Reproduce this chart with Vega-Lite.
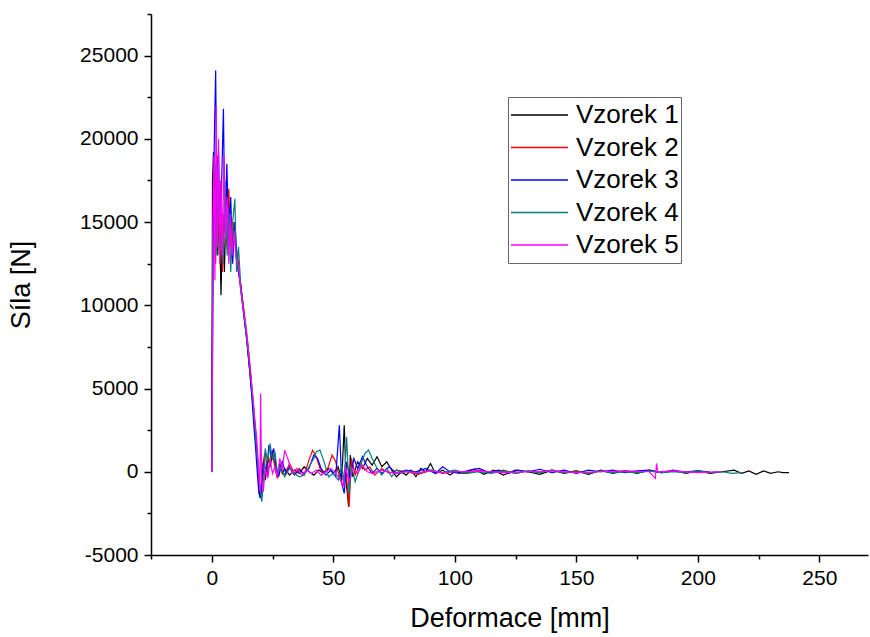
{
"$schema": "https://vega.github.io/schema/vega-lite/v6.json",
"autosize": {"type": "none"},
"padding": {"left": 151, "top": 14, "right": 2, "bottom": 82},
"width": 717,
"height": 541,
"background": "white",
"config": {"view": {"stroke": null}, "font": "Liberation Sans"},
"data": {"values": [
{"v":"Vzorek 1","x":0,"y":0},{"v":"Vzorek 1","x":0.3,"y":17500},{"v":"Vzorek 1","x":0.7,"y":19200},{"v":"Vzorek 1","x":1.2,"y":15000},{"v":"Vzorek 1","x":1.8,"y":18500},{"v":"Vzorek 1","x":2.5,"y":13000},{"v":"Vzorek 1","x":3,"y":16500},{"v":"Vzorek 1","x":3.8,"y":10600},{"v":"Vzorek 1","x":4.5,"y":15500},{"v":"Vzorek 1","x":5.2,"y":12000},{"v":"Vzorek 1","x":6,"y":17000},{"v":"Vzorek 1","x":6.8,"y":13500},{"v":"Vzorek 1","x":7.5,"y":15800},{"v":"Vzorek 1","x":8.3,"y":12800},{"v":"Vzorek 1","x":9,"y":14800},{"v":"Vzorek 1","x":10,"y":13300},{"v":"Vzorek 1","x":11,"y":12000},{"v":"Vzorek 1","x":12,"y":11200},{"v":"Vzorek 1","x":13,"y":9800},{"v":"Vzorek 1","x":14,"y":8500},{"v":"Vzorek 1","x":15,"y":7000},{"v":"Vzorek 1","x":16,"y":5500},{"v":"Vzorek 1","x":17,"y":4000},{"v":"Vzorek 1","x":17.8,"y":2500},{"v":"Vzorek 1","x":18.5,"y":1200},{"v":"Vzorek 1","x":19.2,"y":-200},{"v":"Vzorek 1","x":19.8,"y":-1500},{"v":"Vzorek 1","x":20.5,"y":-800},{"v":"Vzorek 1","x":21.2,"y":200},{"v":"Vzorek 1","x":22,"y":-500},{"v":"Vzorek 1","x":23,"y":900},{"v":"Vzorek 1","x":24,"y":300},{"v":"Vzorek 1","x":25,"y":1100},{"v":"Vzorek 1","x":26,"y":400},{"v":"Vzorek 1","x":27,"y":-300},{"v":"Vzorek 1","x":28,"y":500},{"v":"Vzorek 1","x":29,"y":-100},{"v":"Vzorek 1","x":30,"y":200},{"v":"Vzorek 1","x":32,"y":-200},{"v":"Vzorek 1","x":34,"y":100},{"v":"Vzorek 1","x":36,"y":-100},{"v":"Vzorek 1","x":38,"y":300},{"v":"Vzorek 1","x":40,"y":0},{"v":"Vzorek 1","x":42,"y":-200},{"v":"Vzorek 1","x":44,"y":100},{"v":"Vzorek 1","x":46,"y":-100},{"v":"Vzorek 1","x":48,"y":200},{"v":"Vzorek 1","x":50,"y":-100},{"v":"Vzorek 1","x":52,"y":300},{"v":"Vzorek 1","x":53.5,"y":-500},{"v":"Vzorek 1","x":54.5,"y":2800},{"v":"Vzorek 1","x":55.3,"y":-600},{"v":"Vzorek 1","x":56.3,"y":-2100},{"v":"Vzorek 1","x":57,"y":1000},{"v":"Vzorek 1","x":58,"y":-300},{"v":"Vzorek 1","x":60,"y":600},{"v":"Vzorek 1","x":62,"y":200},{"v":"Vzorek 1","x":64,"y":800},{"v":"Vzorek 1","x":66,"y":400},{"v":"Vzorek 1","x":68,"y":900},{"v":"Vzorek 1","x":70,"y":300},{"v":"Vzorek 1","x":72,"y":600},{"v":"Vzorek 1","x":74,"y":100},{"v":"Vzorek 1","x":76,"y":-300},{"v":"Vzorek 1","x":78,"y":0},{"v":"Vzorek 1","x":80,"y":-200},{"v":"Vzorek 1","x":82,"y":100},{"v":"Vzorek 1","x":84,"y":-300},{"v":"Vzorek 1","x":86,"y":200},{"v":"Vzorek 1","x":88,"y":0},{"v":"Vzorek 1","x":90,"y":500},{"v":"Vzorek 1","x":92,"y":-100},{"v":"Vzorek 1","x":95,"y":100},{"v":"Vzorek 1","x":98,"y":-200},{"v":"Vzorek 1","x":100,"y":0},{"v":"Vzorek 1","x":104,"y":-100},{"v":"Vzorek 1","x":108,"y":150},{"v":"Vzorek 1","x":112,"y":-150},{"v":"Vzorek 1","x":116,"y":100},{"v":"Vzorek 1","x":120,"y":-200},{"v":"Vzorek 1","x":125,"y":100},{"v":"Vzorek 1","x":130,"y":0},{"v":"Vzorek 1","x":135,"y":-150},{"v":"Vzorek 1","x":140,"y":100},{"v":"Vzorek 1","x":145,"y":-100},{"v":"Vzorek 1","x":150,"y":50},{"v":"Vzorek 1","x":155,"y":-150},{"v":"Vzorek 1","x":160,"y":100},{"v":"Vzorek 1","x":165,"y":-100},{"v":"Vzorek 1","x":170,"y":50},{"v":"Vzorek 1","x":175,"y":-100},{"v":"Vzorek 1","x":180,"y":100},{"v":"Vzorek 1","x":185,"y":-50},{"v":"Vzorek 1","x":190,"y":100},{"v":"Vzorek 1","x":195,"y":-100},{"v":"Vzorek 1","x":200,"y":50},{"v":"Vzorek 1","x":205,"y":-100},{"v":"Vzorek 1","x":210,"y":0},{"v":"Vzorek 1","x":215,"y":100},{"v":"Vzorek 1","x":218,"y":-100},{"v":"Vzorek 1","x":221,"y":50},{"v":"Vzorek 1","x":224,"y":-150},{"v":"Vzorek 1","x":227,"y":50},{"v":"Vzorek 1","x":230,"y":-100},{"v":"Vzorek 1","x":233,"y":0},{"v":"Vzorek 1","x":235,"y":-50},{"v":"Vzorek 1","x":237.5,"y":-50},
{"v":"Vzorek 2","x":0,"y":0},{"v":"Vzorek 2","x":0.4,"y":14000},{"v":"Vzorek 2","x":1,"y":18000},{"v":"Vzorek 2","x":1.6,"y":12500},{"v":"Vzorek 2","x":2.3,"y":19000},{"v":"Vzorek 2","x":3,"y":14000},{"v":"Vzorek 2","x":3.7,"y":17500},{"v":"Vzorek 2","x":4.4,"y":12000},{"v":"Vzorek 2","x":5.2,"y":16000},{"v":"Vzorek 2","x":6,"y":13500},{"v":"Vzorek 2","x":7,"y":17000},{"v":"Vzorek 2","x":8,"y":13000},{"v":"Vzorek 2","x":9,"y":15000},{"v":"Vzorek 2","x":10,"y":13500},{"v":"Vzorek 2","x":11,"y":12500},{"v":"Vzorek 2","x":12,"y":11000},{"v":"Vzorek 2","x":13,"y":10000},{"v":"Vzorek 2","x":14,"y":8800},{"v":"Vzorek 2","x":15,"y":7500},{"v":"Vzorek 2","x":16,"y":6000},{"v":"Vzorek 2","x":17,"y":4200},{"v":"Vzorek 2","x":18,"y":2500},{"v":"Vzorek 2","x":18.8,"y":900},{"v":"Vzorek 2","x":19.6,"y":-700},{"v":"Vzorek 2","x":20.3,"y":-1400},{"v":"Vzorek 2","x":21,"y":500},{"v":"Vzorek 2","x":22,"y":1200},{"v":"Vzorek 2","x":23,"y":-300},{"v":"Vzorek 2","x":24,"y":800},{"v":"Vzorek 2","x":25,"y":1300},{"v":"Vzorek 2","x":26,"y":200},{"v":"Vzorek 2","x":27,"y":-400},{"v":"Vzorek 2","x":28,"y":300},{"v":"Vzorek 2","x":30,"y":-200},{"v":"Vzorek 2","x":32,"y":500},{"v":"Vzorek 2","x":34,"y":-100},{"v":"Vzorek 2","x":36,"y":200},{"v":"Vzorek 2","x":38,"y":-200},{"v":"Vzorek 2","x":40,"y":700},{"v":"Vzorek 2","x":41.5,"y":1300},{"v":"Vzorek 2","x":43,"y":900},{"v":"Vzorek 2","x":44.5,"y":200},{"v":"Vzorek 2","x":46,"y":-100},{"v":"Vzorek 2","x":48,"y":300},{"v":"Vzorek 2","x":49.5,"y":1000},{"v":"Vzorek 2","x":51,"y":600},{"v":"Vzorek 2","x":52.5,"y":-300},{"v":"Vzorek 2","x":54,"y":-900},{"v":"Vzorek 2","x":55,"y":500},{"v":"Vzorek 2","x":56.5,"y":-2100},{"v":"Vzorek 2","x":57.5,"y":800},{"v":"Vzorek 2","x":59,"y":-200},{"v":"Vzorek 2","x":61,"y":500},{"v":"Vzorek 2","x":63,"y":100},{"v":"Vzorek 2","x":65,"y":300},{"v":"Vzorek 2","x":67,"y":-200},{"v":"Vzorek 2","x":70,"y":200},{"v":"Vzorek 2","x":73,"y":-100},{"v":"Vzorek 2","x":76,"y":100},{"v":"Vzorek 2","x":80,"y":0},{"v":"Vzorek 2","x":85,"y":-150},{"v":"Vzorek 2","x":90,"y":100},{"v":"Vzorek 2","x":95,"y":-100},{"v":"Vzorek 2","x":100,"y":50},{"v":"Vzorek 2","x":105,"y":-100},{"v":"Vzorek 2","x":110,"y":100},{"v":"Vzorek 2","x":115,"y":-50},{"v":"Vzorek 2","x":120,"y":100},{"v":"Vzorek 2","x":125,"y":-100},{"v":"Vzorek 2","x":130,"y":50},{"v":"Vzorek 2","x":135,"y":-50},{"v":"Vzorek 2","x":140,"y":100},{"v":"Vzorek 2","x":145,"y":-50},{"v":"Vzorek 2","x":150,"y":50},{"v":"Vzorek 2","x":155,"y":-100},{"v":"Vzorek 2","x":160,"y":50},{"v":"Vzorek 2","x":165,"y":-50},{"v":"Vzorek 2","x":170,"y":50},{"v":"Vzorek 2","x":175,"y":-50},{"v":"Vzorek 2","x":180,"y":50},{"v":"Vzorek 2","x":185,"y":-50},{"v":"Vzorek 2","x":190,"y":50},{"v":"Vzorek 2","x":195,"y":-50},{"v":"Vzorek 2","x":200,"y":50},{"v":"Vzorek 2","x":205,"y":0},
{"v":"Vzorek 3","x":0,"y":0},{"v":"Vzorek 3","x":0.4,"y":12000},{"v":"Vzorek 3","x":1,"y":19500},{"v":"Vzorek 3","x":1.6,"y":24100},{"v":"Vzorek 3","x":2.2,"y":15000},{"v":"Vzorek 3","x":2.8,"y":19200},{"v":"Vzorek 3","x":3.4,"y":13500},{"v":"Vzorek 3","x":4,"y":17000},{"v":"Vzorek 3","x":4.8,"y":21800},{"v":"Vzorek 3","x":5.4,"y":14500},{"v":"Vzorek 3","x":6.2,"y":18500},{"v":"Vzorek 3","x":7,"y":14000},{"v":"Vzorek 3","x":7.8,"y":16500},{"v":"Vzorek 3","x":8.6,"y":12500},{"v":"Vzorek 3","x":9.5,"y":15000},{"v":"Vzorek 3","x":10.5,"y":12500},{"v":"Vzorek 3","x":11.5,"y":11500},{"v":"Vzorek 3","x":12.5,"y":10200},{"v":"Vzorek 3","x":13.5,"y":9000},{"v":"Vzorek 3","x":14.5,"y":7800},{"v":"Vzorek 3","x":15.5,"y":6200},{"v":"Vzorek 3","x":16.5,"y":4500},{"v":"Vzorek 3","x":17.3,"y":2800},{"v":"Vzorek 3","x":18,"y":1500},{"v":"Vzorek 3","x":18.7,"y":0},{"v":"Vzorek 3","x":19.4,"y":-1300},{"v":"Vzorek 3","x":20,"y":-1600},{"v":"Vzorek 3","x":20.7,"y":-300},{"v":"Vzorek 3","x":21.5,"y":700},{"v":"Vzorek 3","x":22.5,"y":-200},{"v":"Vzorek 3","x":23.5,"y":1600},{"v":"Vzorek 3","x":24.5,"y":900},{"v":"Vzorek 3","x":25.5,"y":1400},{"v":"Vzorek 3","x":26.5,"y":300},{"v":"Vzorek 3","x":27.5,"y":-300},{"v":"Vzorek 3","x":29,"y":600},{"v":"Vzorek 3","x":30.5,"y":-100},{"v":"Vzorek 3","x":32,"y":300},{"v":"Vzorek 3","x":34,"y":-200},{"v":"Vzorek 3","x":36,"y":100},{"v":"Vzorek 3","x":38,"y":-100},{"v":"Vzorek 3","x":40,"y":200},{"v":"Vzorek 3","x":42,"y":1000},{"v":"Vzorek 3","x":43.5,"y":800},{"v":"Vzorek 3","x":45,"y":200},{"v":"Vzorek 3","x":47,"y":-200},{"v":"Vzorek 3","x":49,"y":100},{"v":"Vzorek 3","x":51,"y":-300},{"v":"Vzorek 3","x":52.5,"y":2800},{"v":"Vzorek 3","x":53.5,"y":-700},{"v":"Vzorek 3","x":54.5,"y":-1300},{"v":"Vzorek 3","x":55.5,"y":600},{"v":"Vzorek 3","x":57,"y":-400},{"v":"Vzorek 3","x":58.5,"y":800},{"v":"Vzorek 3","x":60,"y":200},{"v":"Vzorek 3","x":62,"y":900},{"v":"Vzorek 3","x":64,"y":300},{"v":"Vzorek 3","x":66,"y":-100},{"v":"Vzorek 3","x":68,"y":200},{"v":"Vzorek 3","x":70,"y":-100},{"v":"Vzorek 3","x":73,"y":300},{"v":"Vzorek 3","x":76,"y":-100},{"v":"Vzorek 3","x":80,"y":100},{"v":"Vzorek 3","x":84,"y":0},{"v":"Vzorek 3","x":88,"y":200},{"v":"Vzorek 3","x":92,"y":-100},{"v":"Vzorek 3","x":95,"y":300},{"v":"Vzorek 3","x":98,"y":0},{"v":"Vzorek 3","x":102,"y":-100},{"v":"Vzorek 3","x":106,"y":100},{"v":"Vzorek 3","x":110,"y":200},{"v":"Vzorek 3","x":114,"y":-50},{"v":"Vzorek 3","x":118,"y":100},{"v":"Vzorek 3","x":122,"y":-100},{"v":"Vzorek 3","x":126,"y":100},{"v":"Vzorek 3","x":130,"y":0},{"v":"Vzorek 3","x":135,"y":150},{"v":"Vzorek 3","x":140,"y":-50},{"v":"Vzorek 3","x":145,"y":100},{"v":"Vzorek 3","x":150,"y":-100},{"v":"Vzorek 3","x":155,"y":100},{"v":"Vzorek 3","x":160,"y":0},{"v":"Vzorek 3","x":165,"y":100},{"v":"Vzorek 3","x":170,"y":-50},{"v":"Vzorek 3","x":175,"y":50},{"v":"Vzorek 3","x":180,"y":100},{"v":"Vzorek 3","x":185,"y":-50},{"v":"Vzorek 3","x":190,"y":50},{"v":"Vzorek 3","x":195,"y":0},{"v":"Vzorek 3","x":200,"y":50},{"v":"Vzorek 3","x":205,"y":-50},{"v":"Vzorek 3","x":208,"y":0},
{"v":"Vzorek 4","x":0,"y":0},{"v":"Vzorek 4","x":0.5,"y":10000},{"v":"Vzorek 4","x":1.2,"y":17000},{"v":"Vzorek 4","x":1.8,"y":13000},{"v":"Vzorek 4","x":2.5,"y":18500},{"v":"Vzorek 4","x":3.2,"y":14500},{"v":"Vzorek 4","x":4,"y":16500},{"v":"Vzorek 4","x":4.8,"y":12500},{"v":"Vzorek 4","x":5.5,"y":17500},{"v":"Vzorek 4","x":6.3,"y":13000},{"v":"Vzorek 4","x":7,"y":15500},{"v":"Vzorek 4","x":7.8,"y":12000},{"v":"Vzorek 4","x":8.6,"y":15000},{"v":"Vzorek 4","x":9.5,"y":16400},{"v":"Vzorek 4","x":10.2,"y":12000},{"v":"Vzorek 4","x":11,"y":13500},{"v":"Vzorek 4","x":12,"y":11000},{"v":"Vzorek 4","x":13,"y":9800},{"v":"Vzorek 4","x":14,"y":8500},{"v":"Vzorek 4","x":15,"y":7200},{"v":"Vzorek 4","x":16,"y":5800},{"v":"Vzorek 4","x":17,"y":4200},{"v":"Vzorek 4","x":17.8,"y":2600},{"v":"Vzorek 4","x":18.5,"y":1300},{"v":"Vzorek 4","x":19.2,"y":0},{"v":"Vzorek 4","x":19.9,"y":-1000},{"v":"Vzorek 4","x":20.6,"y":-1800},{"v":"Vzorek 4","x":21.3,"y":-500},{"v":"Vzorek 4","x":22,"y":1400},{"v":"Vzorek 4","x":23,"y":600},{"v":"Vzorek 4","x":24,"y":1700},{"v":"Vzorek 4","x":25,"y":700},{"v":"Vzorek 4","x":26,"y":1200},{"v":"Vzorek 4","x":27,"y":-100},{"v":"Vzorek 4","x":28,"y":300},{"v":"Vzorek 4","x":30,"y":-300},{"v":"Vzorek 4","x":32,"y":200},{"v":"Vzorek 4","x":34,"y":-100},{"v":"Vzorek 4","x":36,"y":-300},{"v":"Vzorek 4","x":38,"y":-200},{"v":"Vzorek 4","x":40,"y":300},{"v":"Vzorek 4","x":42,"y":800},{"v":"Vzorek 4","x":43,"y":1200},{"v":"Vzorek 4","x":44.5,"y":1300},{"v":"Vzorek 4","x":46,"y":700},{"v":"Vzorek 4","x":48,"y":-300},{"v":"Vzorek 4","x":50,"y":-100},{"v":"Vzorek 4","x":52,"y":-500},{"v":"Vzorek 4","x":53.5,"y":400},{"v":"Vzorek 4","x":54.5,"y":-700},{"v":"Vzorek 4","x":55.5,"y":2100},{"v":"Vzorek 4","x":56.5,"y":-1300},{"v":"Vzorek 4","x":57.5,"y":300},{"v":"Vzorek 4","x":59,"y":-600},{"v":"Vzorek 4","x":61,"y":300},{"v":"Vzorek 4","x":63,"y":1100},{"v":"Vzorek 4","x":64.5,"y":1300},{"v":"Vzorek 4","x":66,"y":800},{"v":"Vzorek 4","x":68,"y":200},{"v":"Vzorek 4","x":70,"y":-200},{"v":"Vzorek 4","x":72,"y":200},{"v":"Vzorek 4","x":74,"y":-300},{"v":"Vzorek 4","x":76,"y":100},{"v":"Vzorek 4","x":78,"y":-100},{"v":"Vzorek 4","x":80,"y":50},{"v":"Vzorek 4","x":85,"y":-100},{"v":"Vzorek 4","x":90,"y":100},{"v":"Vzorek 4","x":95,"y":-50},{"v":"Vzorek 4","x":100,"y":100},{"v":"Vzorek 4","x":105,"y":-100},{"v":"Vzorek 4","x":110,"y":0},{"v":"Vzorek 4","x":115,"y":-100},{"v":"Vzorek 4","x":120,"y":50},{"v":"Vzorek 4","x":125,"y":-100},{"v":"Vzorek 4","x":130,"y":50},{"v":"Vzorek 4","x":135,"y":-50},{"v":"Vzorek 4","x":140,"y":100},{"v":"Vzorek 4","x":145,"y":-50},{"v":"Vzorek 4","x":150,"y":0},{"v":"Vzorek 4","x":155,"y":-100},{"v":"Vzorek 4","x":160,"y":50},{"v":"Vzorek 4","x":165,"y":-50},{"v":"Vzorek 4","x":170,"y":0},{"v":"Vzorek 4","x":175,"y":-50},{"v":"Vzorek 4","x":180,"y":50},{"v":"Vzorek 4","x":185,"y":-50},{"v":"Vzorek 4","x":190,"y":0},{"v":"Vzorek 4","x":195,"y":-50},{"v":"Vzorek 4","x":200,"y":50},{"v":"Vzorek 4","x":205,"y":-50},{"v":"Vzorek 4","x":210,"y":0},{"v":"Vzorek 4","x":214,"y":-100},{"v":"Vzorek 4","x":218,"y":-50},
{"v":"Vzorek 5","x":0,"y":0},{"v":"Vzorek 5","x":0.2,"y":3000},{"v":"Vzorek 5","x":0.5,"y":15000},{"v":"Vzorek 5","x":0.9,"y":19000},{"v":"Vzorek 5","x":1.3,"y":11500},{"v":"Vzorek 5","x":1.8,"y":22000},{"v":"Vzorek 5","x":2.3,"y":13500},{"v":"Vzorek 5","x":2.8,"y":20000},{"v":"Vzorek 5","x":3.3,"y":12500},{"v":"Vzorek 5","x":3.8,"y":17500},{"v":"Vzorek 5","x":4.4,"y":13000},{"v":"Vzorek 5","x":5,"y":19000},{"v":"Vzorek 5","x":5.6,"y":14000},{"v":"Vzorek 5","x":6.3,"y":16500},{"v":"Vzorek 5","x":7,"y":12500},{"v":"Vzorek 5","x":7.7,"y":15500},{"v":"Vzorek 5","x":8.4,"y":13000},{"v":"Vzorek 5","x":9.2,"y":14500},{"v":"Vzorek 5","x":10,"y":12800},{"v":"Vzorek 5","x":11,"y":12300},{"v":"Vzorek 5","x":12,"y":10800},{"v":"Vzorek 5","x":13,"y":9800},{"v":"Vzorek 5","x":14,"y":8800},{"v":"Vzorek 5","x":15,"y":7400},{"v":"Vzorek 5","x":16,"y":5800},{"v":"Vzorek 5","x":17,"y":4400},{"v":"Vzorek 5","x":17.8,"y":3000},{"v":"Vzorek 5","x":18.5,"y":2000},{"v":"Vzorek 5","x":19.2,"y":400},{"v":"Vzorek 5","x":19.8,"y":-1200},{"v":"Vzorek 5","x":20.1,"y":4700},{"v":"Vzorek 5","x":20.5,"y":-500},{"v":"Vzorek 5","x":21.2,"y":-1200},{"v":"Vzorek 5","x":22,"y":200},{"v":"Vzorek 5","x":23,"y":-400},{"v":"Vzorek 5","x":24,"y":700},{"v":"Vzorek 5","x":25,"y":-100},{"v":"Vzorek 5","x":26,"y":300},{"v":"Vzorek 5","x":27,"y":-300},{"v":"Vzorek 5","x":28,"y":800},{"v":"Vzorek 5","x":29,"y":100},{"v":"Vzorek 5","x":30,"y":1300},{"v":"Vzorek 5","x":31.5,"y":700},{"v":"Vzorek 5","x":33,"y":-100},{"v":"Vzorek 5","x":35,"y":200},{"v":"Vzorek 5","x":37,"y":-200},{"v":"Vzorek 5","x":39,"y":100},{"v":"Vzorek 5","x":41,"y":-100},{"v":"Vzorek 5","x":43,"y":100},{"v":"Vzorek 5","x":45,"y":-200},{"v":"Vzorek 5","x":47,"y":0},{"v":"Vzorek 5","x":49,"y":200},{"v":"Vzorek 5","x":51,"y":-100},{"v":"Vzorek 5","x":53,"y":-500},{"v":"Vzorek 5","x":54,"y":-900},{"v":"Vzorek 5","x":55,"y":300},{"v":"Vzorek 5","x":56.5,"y":-600},{"v":"Vzorek 5","x":58,"y":200},{"v":"Vzorek 5","x":60,"y":-100},{"v":"Vzorek 5","x":62,"y":400},{"v":"Vzorek 5","x":64,"y":0},{"v":"Vzorek 5","x":66,"y":-100},{"v":"Vzorek 5","x":70,"y":100},{"v":"Vzorek 5","x":75,"y":-100},{"v":"Vzorek 5","x":80,"y":0},{"v":"Vzorek 5","x":85,"y":-50},{"v":"Vzorek 5","x":90,"y":50},{"v":"Vzorek 5","x":95,"y":-50},{"v":"Vzorek 5","x":100,"y":0},{"v":"Vzorek 5","x":110,"y":50},{"v":"Vzorek 5","x":120,"y":-50},{"v":"Vzorek 5","x":130,"y":0},{"v":"Vzorek 5","x":140,"y":50},{"v":"Vzorek 5","x":150,"y":-50},{"v":"Vzorek 5","x":160,"y":0},{"v":"Vzorek 5","x":170,"y":50},{"v":"Vzorek 5","x":180,"y":0},{"v":"Vzorek 5","x":182.5,"y":-400},{"v":"Vzorek 5","x":183,"y":500},{"v":"Vzorek 5","x":183.5,"y":0},{"v":"Vzorek 5","x":190,"y":50},{"v":"Vzorek 5","x":200,"y":-50},{"v":"Vzorek 5","x":210,"y":0}
]},
"mark": {"type": "line", "strokeWidth": 1.2},
"encoding": {
"x": {"field": "x", "type": "quantitative", "scale": {"domain": [-25, 270], "nice": false, "zero": false},
"axis": {"title": "Deformace [mm]", "values": [-25,0,25,50,75,100,125,150,175,200,225,250],
"labelExpr": "datum.value % 50 === 0 ? '' + datum.value : ''",
"tickSize": {"condition": {"test": "datum.value % 50 === 0", "value": 7}, "value": 4},
"grid": false, "domainColor": "#000", "domainWidth": 1.5, "tickColor": "#000", "tickWidth": 1.5,
"labelFont": "Liberation Sans", "labelFontSize": 21, "labelColor": "#000", "labelPadding": 5, "labelFlush": false, "labelOverlap": false,
"titleFont": "Liberation Sans", "titleFontSize": 27, "titleFontWeight": "normal", "titleColor": "#000", "titlePadding": 17}},
"y": {"field": "y", "type": "quantitative", "scale": {"domain": [-5000, 27500], "nice": false, "zero": false},
"axis": {"title": "Síla [N]", "values": [-5000,-2500,0,2500,5000,7500,10000,12500,15000,17500,20000,22500,25000,27500],
"labelExpr": "datum.value % 5000 === 0 ? '' + datum.value : ''",
"tickSize": {"condition": {"test": "datum.value % 5000 === 0", "value": 7}, "value": 4},
"grid": false, "domainColor": "#000", "domainWidth": 1.5, "tickColor": "#000", "tickWidth": 1.5,
"labelFont": "Liberation Sans", "labelFontSize": 21, "labelColor": "#000", "labelPadding": 6, "labelFlush": false, "labelOverlap": false,
"titleFont": "Liberation Sans", "titleFontSize": 27, "titleFontWeight": "normal", "titleColor": "#000", "titlePadding": 44}},
"color": {"field": "v", "type": "nominal", "title": null,
"scale": {"domain": ["Vzorek 1","Vzorek 2","Vzorek 3","Vzorek 4","Vzorek 5"], "range": ["#000000","#ff0000","#0000ff","#008080","#ff00ff"]},
"legend": {"orient": "none", "legendX": 357, "legendY": 83, "symbolType": "stroke", "symbolSize": 3249, "symbolStrokeWidth": 1.5,
"clipHeight": 32, "rowPadding": 0.5, "labelFontSize": 26, "labelFont": "Liberation Sans", "labelColor": "#000", "labelOffset": 7,
"strokeColor": "#666", "padding": 2, "labelLimit": 300}}
}
}
